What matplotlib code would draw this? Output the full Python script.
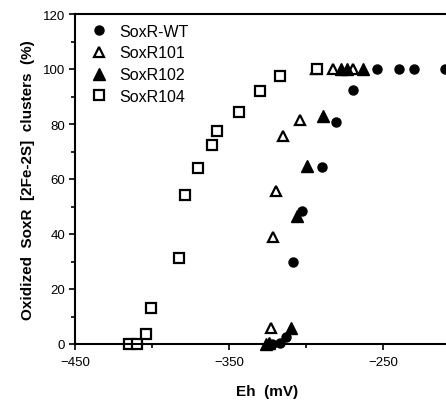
import matplotlib
matplotlib.use("Agg")
import matplotlib.pyplot as plt
from matplotlib.ticker import MultipleLocator

plt.rcParams['font.family'] = ['Liberation Sans', 'DejaVu Sans']

# SoxR-WT (filled circles)
wt_eh = [-322, -317, -313, -308.2, -302.5, -289.6, -280.5, -269.3, -254.1, -239.4, -229.9, -210]
wt_ox = [0, 0.5, 2.5, 29.7, 48.5, 64.4, 80.8, 92.5, 100, 100, 100, 100]

# SoxR101 (open triangles)
r101_eh = [-322.7, -321.2, -319.5, -314.9, -303.9, -293.5, -282.3, -269.7]
r101_ox = [6, 38.8, 55.8, 75.6, 81.5, 100, 100, 100]

# SoxR102 (filled triangles)
r102_eh = [-326, -324, -309.7, -306, -299.6, -289.2, -277.5, -273.5, -262.8]
r102_ox = [0, 0.5, 5.7, 46.5, 64.8, 82.8, 100, 100, 100]

# SoxR104 (open squares)
r104_eh = [-415, -409.7, -403.9, -400.6, -382.7, -378.6, -370.3, -361.2, -357.8, -343.5, -329.9, -316.9, -292.7]
r104_ox = [0, 0, 3.6, 13.1, 31.3, 54.3, 64.0, 72.4, 77.5, 84.2, 92.1, 97.3, 100]

labels = ["SoxR-WT", "SoxR101", "SoxR102", "SoxR104"]
x_ticks = [-450, -350, -250]
y_ticks = [0, 20, 40, 60, 80, 100, 120]

fig = plt.figure(figsize=(4.46, 4.02), dpi=100)
W, H = 446, 402
left, right, top, bottom = 75, 460, 15, 345
ax = fig.add_axes([left / W, (H - bottom) / H, (right - left) / W, (bottom - top) / H])

ax.plot(wt_eh, wt_ox, linestyle='none', marker='o', ms=6.5, mfc='black', mec='black', label=labels[0], clip_on=False)
ax.plot(r101_eh, r101_ox, linestyle='none', marker='^', ms=7.5, mfc='white', mec='black', mew=1.6, label=labels[1], clip_on=False)
ax.plot(r102_eh, r102_ox, linestyle='none', marker='^', ms=9, mfc='black', mec='black', label=labels[2], clip_on=False)
ax.plot(r104_eh, r104_ox, linestyle='none', marker='s', ms=7.5, mfc='white', mec='black', mew=1.6, label=labels[3], clip_on=False)

ax.set_xlim(-450, -200)
ax.set_ylim(0, 120)
ax.set_xticks(x_ticks)
ax.set_yticks(y_ticks)
ax.xaxis.set_minor_locator(MultipleLocator(50))
ax.yaxis.set_minor_locator(MultipleLocator(10))
ax.tick_params(which='major', direction='out', length=4, width=1.2, labelsize=9.5)
ax.tick_params(axis='x', which='major', pad=5)
ax.tick_params(axis='y', which='major', pad=3)
ax.tick_params(which='minor', direction='out', length=3, width=1.2)
for s in ['left', 'bottom', 'top', 'right']:
    ax.spines[s].set_linewidth(1.5)

ax.set_xlabel("Eh  (mV)", fontsize=11, fontweight='bold', labelpad=11)
ax.set_ylabel("Oxidized  SoxR  [2Fe-2S]  clusters  (%)", fontsize=11, fontweight='bold', labelpad=6)

leg = ax.legend(loc='upper left', bbox_to_anchor=(0.025, 0.99), frameon=False, fontsize=11.5,
                handlelength=1.0, handletextpad=0.8, labelspacing=0.42, borderaxespad=0)

fig.savefig("out.png", dpi=100)
